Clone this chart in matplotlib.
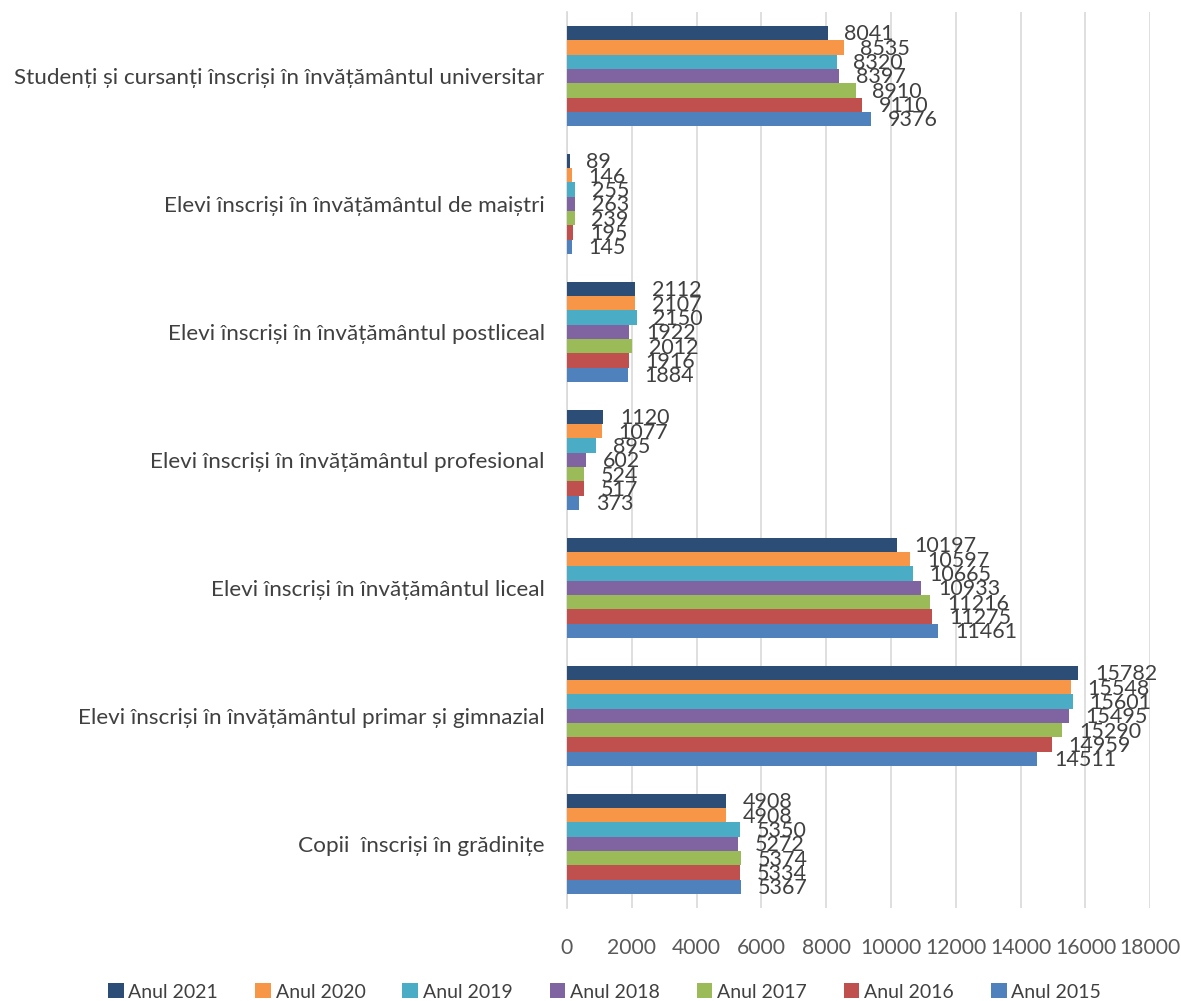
import numpy as np
import matplotlib
matplotlib.use("Agg")
import matplotlib.pyplot as plt

plt.rcParams['font.family'] = ['Lato', 'DejaVu Sans']

# categories, bottom to top as drawn
categories = [
    'Copii  înscriși în grădinițe',
    'Elevi înscriși în învățământul primar și gimnazial',
    'Elevi înscriși în învățământul liceal',
    'Elevi înscriși în învățământul profesional',
    'Elevi înscriși în învățământul postliceal',
    'Elevi înscriși în învățământul de maiștri',
    'Studenți și cursanți înscriși în învățământul universitar',
]

years = ['Anul 2015', 'Anul 2016', 'Anul 2017', 'Anul 2018', 'Anul 2019', 'Anul 2020', 'Anul 2021']
colors = ['#4F81BD', '#C0504D', '#9BBB59', '#8064A2', '#4BACC6', '#F79646', '#2C4D75']

an_2015 = [5367, 14511, 11461, 373, 1884, 145, 9376]
an_2016 = [5334, 14959, 11275, 517, 1916, 195, 9110]
an_2017 = [5374, 15290, 11216, 524, 2012, 239, 8910]
an_2018 = [5272, 15495, 10933, 602, 1922, 263, 8397]
an_2019 = [5350, 15601, 10665, 895, 2150, 255, 8320]
an_2020 = [4908, 15548, 10597, 1077, 2107, 146, 8535]
an_2021 = [4908, 15782, 10197, 1120, 2112, 89, 8041]
series = [an_2015, an_2016, an_2017, an_2018, an_2019, an_2020, an_2021]

fig = plt.figure(figsize=(11.81, 10.01), dpi=100)
ax = fig.add_axes([0.480, 0.093, 0.494, 0.895])

y = np.arange(len(categories))
h = 0.112
for i, (vals, col, yr) in enumerate(zip(series, colors, years)):
    off = (i - 3) * h
    ax.barh(y + off, vals, height=h, color=col, label=yr, zorder=3)
    # value labels, right of each bar
    for yy, v in zip(y + off, vals):
        ax.annotate(str(v), (v, yy), xytext=(12, -1), textcoords='offset points',
                    ha='left', va='center', fontsize=15.5, color='#404040', zorder=4)

ax.set_xlim(0, 18000)
ax.set_ylim(-0.5, len(categories) - 0.5)
ax.set_xticks(range(0, 18001, 2000))
ax.set_yticks(y)
ax.set_yticklabels(categories)
ax.tick_params(axis='y', length=0, pad=16, labelsize=16.2, labelcolor='#404040')
ax.tick_params(axis='x', length=0, pad=22, labelsize=15.2, labelcolor='#595959')
ax.grid(axis='x', color='#D9D9D9', linewidth=1.2, zorder=0)
for s in ['top', 'right', 'bottom']:
    ax.spines[s].set_visible(False)
ax.spines['left'].set_color('#D9D9D9')
ax.spines['left'].set_linewidth(1.2)

handles, labels = ax.get_legend_handles_labels()
fig.legend(handles[::-1], labels[::-1], loc='center', bbox_to_anchor=(0.512, 0.009),
           ncol=7, frameon=False, fontsize=14, handlelength=0.8, handleheight=0.8,
           handletextpad=0.25, columnspacing=1.9, labelcolor='#404040')

fig.savefig('out.png', dpi=100)
